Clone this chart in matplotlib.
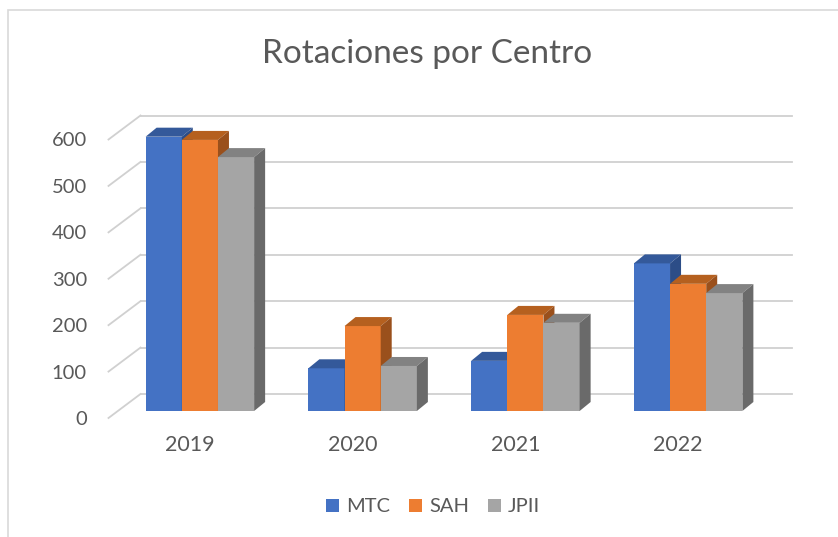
import matplotlib.pyplot as plt
from matplotlib.patches import Patch, Rectangle

years = ['2019', '2020', '2021', '2022']
series = ['MTC', 'SAH', 'JPII']
mtc = [591, 92, 108, 318]
sah = [584, 183, 207, 274]
jpii = [547, 97, 190, 254]
yticks = [0, 100, 200, 300, 400, 500, 600]

front_colors = ['#4472C4', '#ED7D31', '#A5A5A5']
top_colors = ['#34599A', '#B5601F', '#828282']
side_colors = ['#2C4D87', '#9A501C', '#6A6A6A']
text_color = '#595959'
grid_color = '#d0d0d0'

plt.rcParams['font.family'] = ['Lato', 'DejaVu Sans']

W, H = 838, 537
fig = plt.figure(figsize=(W / 100, H / 100), dpi=100)

# axes = front edge of the floor
ax_left, ax_right, ax_bottom, ax_top = 108.5, 759.5, 418, 139.5
ax = fig.add_axes([ax_left / W, 1 - ax_bottom / H,
                   (ax_right - ax_left) / W, (ax_bottom - ax_top) / H])
ax.set_xlim(-0.5, 3.5)
ax.set_ylim(0, 600)
for s in ax.spines.values():
    s.set_visible(False)

# pixel -> data units
ux = 4 / (ax_right - ax_left)
uy = 600 / (ax_bottom - ax_top)
wall_dx, wall_dy = 32 * ux, 24 * uy
bar_dx, bar_dy = 10 * ux, 7 * uy
dep_dx, dep_dy = 11 * ux, 9 * uy

# back wall gridlines and left diagonal ticks
for v in yticks:
    ax.plot([-0.5 + wall_dx, 3.5 + wall_dx], [v + wall_dy, v + wall_dy],
            color=grid_color, lw=1.3, clip_on=False, zorder=1)
    ax.plot([-0.5, -0.5 + wall_dx], [v, v + wall_dy],
            color=grid_color, lw=1.3, clip_on=False, zorder=1)

w = 1 / 4.5
z = 2
for i in range(len(years)):
    for k, vals in enumerate([mtc, sah, jpii]):
        x0 = i + (k - 1) * w - w / 2 + bar_dx
        x1 = x0 + w
        y0 = bar_dy
        y1 = vals[i] + bar_dy
        ax.fill([x0, x1, x1, x0], [y0, y0, y1, y1], color=front_colors[k],
                lw=0, clip_on=False, zorder=z)
        ax.fill([x0, x1, x1 + dep_dx, x0 + dep_dx],
                [y1, y1, y1 + dep_dy, y1 + dep_dy], color=top_colors[k],
                lw=0, clip_on=False, zorder=z)
        ax.fill([x1, x1 + dep_dx, x1 + dep_dx, x1],
                [y0, y0 + dep_dy, y1 + dep_dy, y1], color=side_colors[k],
                lw=0, clip_on=False, zorder=z)
        z += 1

ax.set_yticks(yticks)
ax.set_yticklabels([str(v) for v in yticks])
ax.set_xticks(range(len(years)))
ax.set_xticklabels(years)
ax.tick_params(axis='y', length=0, pad=15.5, labelsize=14.5, labelcolor=text_color)
ax.tick_params(axis='x', length=0, pad=12.5, labelsize=15.5, labelcolor=text_color)

fig.text(427 / W, 1 - 54 / H, 'Rotaciones por Centro', ha='center', va='center',
         fontsize=24, color=text_color)

handles = [Patch(facecolor=c, edgecolor='none') for c in front_colors]
fig.legend(handles, series, loc='center', bbox_to_anchor=(433 / W, 1 - 507 / H),
           ncol=3, frameon=False, fontsize=14.5, labelcolor=text_color,
           handlelength=0.65, handleheight=0.65, handletextpad=0.35,
           columnspacing=0.95)

# chart border (only top and left visible in the crop)
fig.patches.append(Rectangle((8 / W, -0.1), 1.2, 1 - 10 / H + 0.1,
                             transform=fig.transFigure, fill=False,
                             edgecolor='#d9d9d9', lw=1.2))

fig.savefig('out.png', dpi=100)
